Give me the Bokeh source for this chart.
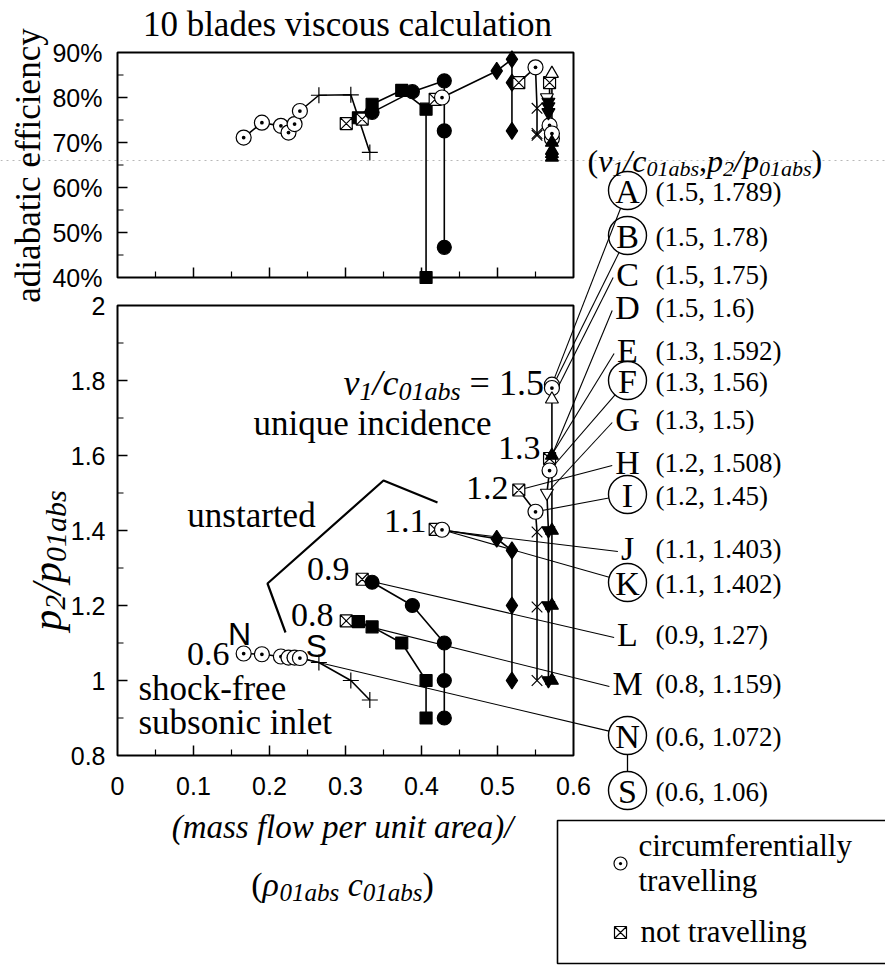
import math
from bokeh.plotting import figure
from bokeh.models import Range1d, ColumnDataSource
from bokeh.core.properties import value, field
from bokeh.embed import file_html
from bokeh.resources import INLINE

# ---------------- data ----------------
# x: (mass flow per unit area)/(rho01abs c01abs); P: p2/p01abs; EFF: adiabatic efficiency
V06_X   = [0.166, 0.190, 0.215, 0.225, 0.233, 0.240, 0.265, 0.307, 0.332]
V06_P   = [1.072, 1.070, 1.064, 1.061, 1.061, 1.060, 1.048, 1.000, 0.948]
V06_EFF = [0.711, 0.744, 0.737, 0.722, 0.741, 0.770, 0.805, 0.806, 0.678]
V06_MK  = ["cdot", "cdot", "cdot", "cdot", "cdot", "cdot", "plus", "plus", "plus"]

V08_X   = [0.301, 0.317, 0.335, 0.374, 0.406, 0.406]
V08_P   = [1.159, 1.157, 1.143, 1.100, 1.000, 0.900]
V08_EFF = [0.742, 0.755, 0.785, 0.816, 0.774, 0.400]
V08_MK  = ["sqx", "sq", "sq", "sq", "sq", "sq"]

V09_X   = [0.322, 0.335, 0.388, 0.430, 0.430, 0.430]
V09_P   = [1.270, 1.262, 1.200, 1.100, 1.000, 0.900]
V09_EFF = [0.752, 0.767, 0.813, 0.837, 0.726, 0.467]
V09_MK  = ["sqx", "dot", "dot", "dot", "dot", "dot"]

V11_X   = [0.418, 0.427, 0.499, 0.519, 0.519, 0.519]
V11_P   = [1.403, 1.402, 1.378, 1.347, 1.200, 1.000]
V11_EFF = [0.796, 0.800, 0.859, 0.885, 0.833, 0.726]
V11_MK  = ["sqx", "cdot", "dia", "dia", "dia", "dia"]

V12_X   = [0.528, 0.550, 0.552, 0.552, 0.552]
V12_P   = [1.508, 1.450, 1.396, 1.196, 1.000]
V12_EFF = [0.833, 0.867, 0.776, 0.716, 0.720]
V12_MK  = ["sqx", "cdot", "x", "x", "x"]

V13_X   = [0.5685, 0.5685, 0.565, 0.567, 0.567, 0.567]
V13_P   = [1.592, 1.560, 1.500, 1.400, 1.200, 1.000]
V13_EFF = [0.833, 0.738, 0.800, 0.767, 0.780, 0.790]
V13_MK  = ["sqx", "cdot", "itri_o", "itri", "itri", "itri"]

V15_X   = [0.5716, 0.5716, 0.5716, 0.5716, 0.5716, 0.5716, 0.5716]
V15_P   = [1.789, 1.780, 1.750, 1.600, 1.400, 1.200, 1.000]
V15_EFF = [0.709, 0.720, 0.853, 0.700, 0.682, 0.667, 0.675]
V15_MK  = ["cdot", "cdot", "tri_o", "tri", "tri", "tri", "tri"]

CURVES = {
    "v06": (V06_X, V06_P, V06_EFF, V06_MK),
    "v08": (V08_X, V08_P, V08_EFF, V08_MK),
    "v09": (V09_X, V09_P, V09_EFF, V09_MK),
    "v11": (V11_X, V11_P, V11_EFF, V11_MK),
    "v12": (V12_X, V12_P, V12_EFF, V12_MK),
    "v13": (V13_X, V13_P, V13_EFF, V13_MK),
    "v15": (V15_X, V15_P, V15_EFF, V15_MK),
}

# axis ticks
X_TICKS = [0.0, 0.1, 0.2, 0.3, 0.4, 0.5, 0.6]
X_TICK_LABELS = ["0", "0.1", "0.2", "0.3", "0.4", "0.5", "0.6"]
X_MINOR = [0.05, 0.15, 0.25, 0.35, 0.45, 0.55]
P_TICKS = [0.8, 1.0, 1.2, 1.4, 1.6, 1.8, 2.0]
P_TICK_LABELS = ["0.8", "1", "1.2", "1.4", "1.6", "1.8", "2"]
P_MINOR = [0.9, 1.1, 1.3, 1.5, 1.7, 1.9]
EFF_TICKS = [0.4, 0.5, 0.6, 0.7, 0.8, 0.9]
EFF_TICK_LABELS = ["40%", "50%", "60%", "70%", "80%", "90%"]
EFF_MINOR = [0.45, 0.55, 0.65, 0.75, 0.85]

# labelled operating points (v1/c01abs, p2/p01abs)
LBL_LETTERS = ["A", "B", "C", "D", "E", "F", "G", "H", "I", "J", "K", "L", "M", "N", "S"]
LBL_V = ["1.5", "1.5", "1.5", "1.5", "1.3", "1.3", "1.3", "1.2", "1.2", "1.1", "1.1", "0.9", "0.8", "0.6", "0.6"]
LBL_P = ["1.789", "1.78", "1.75", "1.6", "1.592", "1.56", "1.5", "1.508", "1.45", "1.403", "1.402", "1.27", "1.159", "1.072", "1.06"]
LBL_CIRCLED = [True, True, False, False, False, True, False, False, True, False, True, False, False, True, True]
LBL_POINT = [("v15", 0), ("v15", 1), ("v15", 2), ("v15", 3), ("v13", 0), ("v13", 1), ("v13", 2),
             ("v12", 0), ("v12", 1), ("v11", 0), ("v11", 1), ("v09", 0), ("v08", 0), ("v06", 5), None]

# ---------------- layout (page pixels) ----------------
W, H = 885, 968
BX0, BX1 = 117, 573          # x = 0 and x = 0.6
BY_TOP, BY_BOT = 305, 755    # p = 2.0 and p = 0.8
TY_TOP, TY_BOT = 52, 277     # eff = 0.9 and 0.4
XMIN, XMAX = 0.0, 0.6
PMIN, PMAX = 0.8, 2.0
EMIN, EMAX = 0.4, 0.9
kx = (BX1 - BX0) / (XMAX - XMIN)
kp = (BY_BOT - BY_TOP) / (PMAX - PMIN)
ke = (TY_BOT - TY_TOP) / (EMAX - EMIN)

SERIF = "Liberation Serif"
SANS = "Liberation Sans"

p = figure(width=W, height=H,
           x_range=Range1d(XMIN - BX0 / kx, XMAX + (W - BX1) / kx),
           y_range=Range1d(PMIN - (H - BY_BOT) / kp, PMAX + BY_TOP / kp),
           x_axis_type=None, y_axis_type=None, min_border=0,
           toolbar_location=None, output_backend="svg",
           outline_line_color=None, background_fill_color="white",
           border_fill_color="white")
p.extra_x_ranges = {"px": Range1d(0, W)}
p.extra_y_ranges = {"eff": Range1d(EMIN - (H - TY_BOT) / ke, EMAX + TY_TOP / ke),
                    "py": Range1d(H, 0)}

def to_page(x, v):
    return BX0 + kx * (x - XMIN), BY_BOT - kp * (v - PMIN)

def to_data(sx, sy):
    return XMIN + (sx - BX0) / kx, PMIN + (BY_BOT - sy) / kp

REG_W = {' ': .25, '(': .333, ')': .333, ',': .25, '.': .25, '/': .278, '-': .333, '=': .564, '%': .833,
         'A': .722, 'B': .667, 'C': .667, 'D': .722, 'E': .611, 'F': .556, 'G': .722, 'H': .722,
         'I': .333, 'J': .389, 'K': .722, 'L': .611, 'M': .889, 'N': .722, 'S': .556}
ITA_W = {' ': .25, '(': .333, ')': .333, ',': .25, '.': .25, '/': .278, 'a': .5, 'b': .5, 'c': .444,
         'p': .5, 's': .389, 'v': .444, 'ρ': .5}

def tw(s, size, italic):
    t = ITA_W if italic else REG_W
    return sum(t.get(ch, 0.5) for ch in s) * size

def put_text(x, y, s, size, font=SERIF, italic=False, align="left", baseline="middle", angle=0.0):
    p.text(x=[x], y=[y], text=[s], x_range_name="px", y_range_name="py",
           text_font=value(font), text_font_style="italic" if italic else "normal",
           text_font_size=f"{size}px", text_align=align, text_baseline=baseline,
           angle=angle, text_color="black")

def rich(parts, x, y, angle=0.0, align="left"):
    """Draw a run of text pieces (text, size, italic, baseline shift) one after another."""
    widths = [tw(t, s, it) for t, s, it, _ in parts]
    total = sum(widths)
    ca, sa = math.cos(angle), math.sin(angle)
    adv = {"left": 0.0, "center": -total / 2, "right": -total}[align]
    for (t, s, it, sh), w in zip(parts, widths):
        stripped = t.lstrip(" ")
        lead = tw(t[:len(t) - len(stripped)], s, it)
        a = adv + lead
        put_text(x + a * ca + sh * sa, y - a * sa + sh * ca, stripped, s,
                 italic=it, baseline="alphabetic", angle=angle)
        adv += w

# scan artefact: faint dotted line across the page
p.line(x=[0, W], y=[160, 160], x_range_name="px", y_range_name="py",
       line_color="#9a9a9a", line_width=1, line_dash="2 4", line_alpha=0.7)

# ---------------- plot frames and ticks ----------------
p.quad(left=[XMIN], right=[XMAX], bottom=[PMIN], top=[PMAX], fill_color=None,
       line_color="black", line_width=2)
p.quad(left=[XMIN], right=[XMAX], bottom=[EMIN], top=[EMAX], fill_color=None,
       line_color="black", line_width=2, y_range_name="eff")

MAJ, MIN_ = 10, 6
xm = X_TICKS[1:-1]
p.segment(x0=xm, y0=[PMIN] * len(xm), x1=xm, y1=[PMIN + MAJ / kp] * len(xm), line_color="black", line_width=1.5)
p.segment(x0=X_MINOR, y0=[PMIN] * len(X_MINOR), x1=X_MINOR, y1=[PMIN + MIN_ / kp] * len(X_MINOR), line_color="black", line_width=1.2)
pm = P_TICKS[1:-1]
p.segment(x0=[XMIN] * len(pm), y0=pm, x1=[XMIN + MAJ / kx] * len(pm), y1=pm, line_color="black", line_width=1.5)
p.segment(x0=[XMIN] * len(P_MINOR), y0=P_MINOR, x1=[XMIN + MIN_ / kx] * len(P_MINOR), y1=P_MINOR, line_color="black", line_width=1.2)
p.segment(x0=xm, y0=[EMIN] * len(xm), x1=xm, y1=[EMIN + MAJ / ke] * len(xm), line_color="black", line_width=1.5, y_range_name="eff")
p.segment(x0=X_MINOR, y0=[EMIN] * len(X_MINOR), x1=X_MINOR, y1=[EMIN + MIN_ / ke] * len(X_MINOR), line_color="black", line_width=1.2, y_range_name="eff")
em = EFF_TICKS[1:-1]
p.segment(x0=[XMIN] * len(em), y0=em, x1=[XMIN + MAJ / kx] * len(em), y1=em, line_color="black", line_width=1.5, y_range_name="eff")
p.segment(x0=[XMIN] * len(EFF_MINOR), y0=EFF_MINOR, x1=[XMIN + MIN_ / kx] * len(EFF_MINOR), y1=EFF_MINOR, line_color="black", line_width=1.2, y_range_name="eff")

p.text(x=X_TICKS, y=[PMIN - 30 / kp] * len(X_TICKS), text=X_TICK_LABELS, text_align="center",
       text_baseline="middle", text_font=value(SANS), text_font_size="25px", text_color="black")
p.text(x=[XMIN - 12 / kx] * len(P_TICKS), y=P_TICKS, text=P_TICK_LABELS, text_align="right",
       text_baseline="middle", text_font=value(SANS), text_font_size="25px", text_color="black")
p.text(x=[XMIN - 15 / kx] * len(EFF_TICKS), y=EFF_TICKS, text=EFF_TICK_LABELS, text_align="right",
       text_baseline="middle", text_font=value(SANS), text_font_size="25px", text_color="black",
       y_range_name="eff")

# ---------------- curves ----------------
for xs, ps, es, mks in CURVES.values():
    p.line(xs, ps, line_color="black", line_width=1.6)
    p.line(xs, es, line_color="black", line_width=1.6, y_range_name="eff")

# leader lines from labelled points to the labels on the right
LBL_X, VAL_X, LETTER_SIZE, R_CIRC = 627, 655, 34, 19
LBL_Y = [190, 235, 273, 306, 349, 380, 418, 461, 494, 547, 582, 633, 682, 735, 790]
lx0, ly0, lx1, ly1 = [], [], [], []
for i, letter in enumerate(LBL_LETTERS):
    if LBL_POINT[i] is None:
        continue
    name, idx = LBL_POINT[i]
    xv, pv = CURVES[name][0][idx], CURVES[name][1][idx]
    sx, sy = to_page(xv, pv)
    cx, cy = LBL_X, LBL_Y[i]
    if LBL_CIRCLED[i]:
        dx, dy = sx - cx, sy - cy
        d = math.hypot(dx, dy)
        ex, ey = cx + R_CIRC * dx / d, cy + R_CIRC * dy / d
    else:
        ex, ey = cx - REG_W[letter] * LETTER_SIZE / 2 - 3, cy + 4
    exd, eyd = to_data(ex, ey)
    lx0.append(xv); ly0.append(pv); lx1.append(exd); ly1.append(eyd)
p.segment(x0=lx0, y0=ly0, x1=lx1, y1=ly1, line_color="black", line_width=1.1)

MK_STYLE = {
    "cdot": ("circle_dot", "white", 15), "sqx": ("square_x", "white", 12),
    "sq": ("square", "black", 12), "dot": ("circle", "black", 14),
    "dia": ("diamond", "black", 17), "x": ("x", "black", 15),
    "tri_o": ("triangle", "white", 13), "tri": ("triangle", "black", 13),
    "itri_o": ("inverted_triangle", "white", 13), "itri": ("inverted_triangle", "black", 13),
    "plus": ("cross", "black", 16),
}

def marker_source(which):
    d = {"x": [], "y": [], "marker": [], "fill": [], "size": []}
    for xs, ps, es, mks in CURVES.values():
        ys = ps if which == "p" else es
        for xv, yv, mk in zip(xs, ys, mks):
            m, f, s = MK_STYLE[mk]
            d["x"].append(xv); d["y"].append(yv); d["marker"].append(m)
            d["fill"].append(f); d["size"].append(s)
    return ColumnDataSource(d)

p.scatter(x="x", y="y", marker=field("marker"), size=field("size"), fill_color=field("fill"),
          line_color="black", line_width=1.2, source=marker_source("p"))
p.scatter(x="x", y="y", marker=field("marker"), size=field("size"), fill_color=field("fill"),
          line_color="black", line_width=1.2, source=marker_source("eff"), y_range_name="eff")

# ---------------- texts ----------------
put_text(347, 24, "10 blades viscous calculation", 35, align="center")
put_text(28, 165, "adiabatic efficiency", 35, align="center", angle=math.pi / 2)
rich([("p", 42, True, 0), ("2", 30, True, 9), ("/p", 42, True, 0), ("01abs", 30, True, 9)],
     46, 560, angle=math.pi / 2, align="center")

rich([("v", 36, True, 0), ("1", 26, True, 9), ("/c", 36, True, 0), ("01abs", 26, True, 9),
      (" = 1.5", 36, False, 0)], 343, 382)
put_text(372, 423, "unique incidence", 35, align="center")
put_text(540, 447, "1.3", 34, align="right")
put_text(508, 487, "1.2", 34, align="right")
put_text(426, 520, "1.1", 34, align="right")
put_text(349, 568, "0.9", 34, align="right")
put_text(333, 614, "0.8", 34, align="right")
put_text(229, 653, "0.6", 34, align="right")
put_text(239, 633, "N", 32, font=SANS, align="center")
put_text(316, 645, "S", 32, font=SANS, align="center")
put_text(251, 515, "unstarted", 35, align="center")
put_text(138, 688, "shock-free", 35)
put_text(138, 722, "subsonic inlet", 35)
p.line(x=[285, 267, 383, 437], y=[632, 583, 480, 502], x_range_name="px", y_range_name="py",
       line_color="black", line_width=2.2)

put_text(342, 826, "(mass flow per unit area)/", 33, italic=True, align="center")
rich([("(", 34, False, 0), ("ρ", 34, True, 0), ("01abs", 25, True, 8), (" c", 34, True, 0),
      ("01abs", 25, True, 8), (")", 34, False, 0)], 342, 884, align="center")

# right-hand label column
rich([("(", 32, False, 0), ("v", 32, True, 0), ("1", 22, True, 8), ("/c", 32, True, 0),
      ("01abs", 22, True, 8), (",", 32, False, 0), ("p", 32, True, 0), ("2", 22, True, 8),
      ("/p", 32, True, 0), ("01abs", 22, True, 8), (")", 32, False, 0)], 587, 160)
circ_x, circ_y = [], []
for i, letter in enumerate(LBL_LETTERS):
    put_text(LBL_X, LBL_Y[i] + 1, letter, LETTER_SIZE, align="center")
    put_text(VAL_X, LBL_Y[i] + 1, f"({LBL_V[i]}, {LBL_P[i]})", 27)
    if LBL_CIRCLED[i]:
        circ_x.append(LBL_X); circ_y.append(LBL_Y[i])
p.scatter(x=circ_x, y=circ_y, marker="circle", size=2 * R_CIRC, fill_color=None, line_color="black",
          line_width=1.4, x_range_name="px", y_range_name="py")
iN, iS = LBL_LETTERS.index("N"), LBL_LETTERS.index("S")
p.line(x=[LBL_X, LBL_X], y=[LBL_Y[iN] + R_CIRC, LBL_Y[iS] - R_CIRC], x_range_name="px",
       y_range_name="py", line_color="black", line_width=1.3)

# legend box
p.quad(left=[557], right=[895], top=[820], bottom=[963], x_range_name="px", y_range_name="py",
       fill_color=None, line_color="black", line_width=1.6)
p.scatter(x=[620], y=[863], marker="circle_dot", size=13, fill_color="white", line_color="black",
          line_width=1.2, x_range_name="px", y_range_name="py")
p.scatter(x=[620], y=[932], marker="square_x", size=12, fill_color="white", line_color="black",
          line_width=1.2, x_range_name="px", y_range_name="py")
put_text(638, 845, "circumferentially", 31)
put_text(638, 880, "travelling", 31)
put_text(640, 931, "not travelling", 31)

open("out.html", "w").write(file_html(p, INLINE))
